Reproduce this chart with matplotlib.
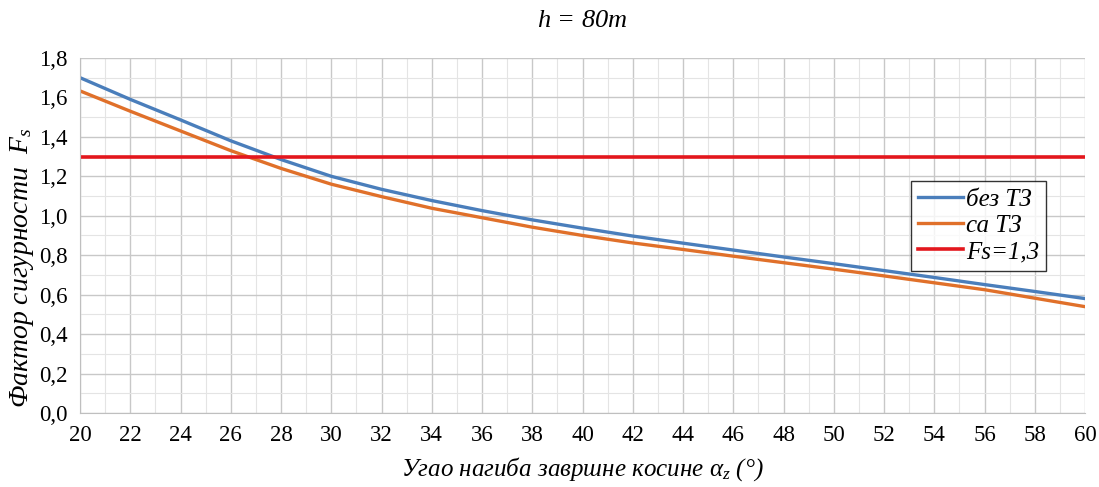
import numpy as np
import matplotlib
matplotlib.use('Agg')
import matplotlib.pyplot as plt
from matplotlib.ticker import MultipleLocator, FuncFormatter

plt.rcParams['font.family'] = ['Liberation Serif', 'DejaVu Serif']
plt.rcParams['mathtext.fontset'] = 'custom'
plt.rcParams['mathtext.it'] = 'Liberation Serif:italic'
plt.rcParams['mathtext.rm'] = 'Liberation Serif'

# Data
alpha = [20, 22, 24, 26, 28, 30, 32, 34, 36, 38, 40, 42, 44, 46, 48, 50, 52, 54, 56, 58, 60]
fs_bez = [1.70, 1.59, 1.486, 1.38, 1.285, 1.20, 1.134, 1.077, 1.026, 0.979, 0.937,
          0.897, 0.861, 0.826, 0.791, 0.757, 0.722, 0.687, 0.651, 0.616, 0.580]
fs_sa = [1.633, 1.53, 1.43, 1.33, 1.24, 1.16, 1.097, 1.038, 0.99, 0.942, 0.90,
         0.862, 0.829, 0.795, 0.762, 0.729, 0.695, 0.66, 0.625, 0.582, 0.539]
fs_limit = 1.3

fig = plt.figure(figsize=(10.99, 4.87), dpi=100)
ax = fig.add_axes([0.0728, 0.152, 0.9145, 0.729])

ax.plot(alpha, fs_bez, color='#4a7ebb', lw=2.4, label='без ТЗ')
ax.plot(alpha, fs_sa, color='#e0702a', lw=2.4, label='са ТЗ')
ax.plot([alpha[0], alpha[-1]], [fs_limit, fs_limit], color='#e3171d', lw=2.6, label='Fs=1,3')

ax.set_xlim(20, 60)
ax.set_ylim(0, 1.8)
ax.xaxis.set_major_locator(MultipleLocator(2))
ax.xaxis.set_minor_locator(MultipleLocator(1))
ax.yaxis.set_major_locator(MultipleLocator(0.2))
ax.yaxis.set_minor_locator(MultipleLocator(0.1))
ax.yaxis.set_major_formatter(FuncFormatter(lambda v, p: f'{v:.1f}'.replace('.', ',')))

ax.grid(which='major', color='#c8c8c8', lw=1.0)
ax.grid(which='minor', color='#e4e4e4', lw=0.8)
ax.set_axisbelow(True)
for s in ['top', 'right']:
    ax.spines[s].set_visible(False)
for s in ['left', 'bottom']:
    ax.spines[s].set_color('#bfbfbf')
ax.tick_params(which='both', length=0, labelsize=16.5, pad=9)

ax.set_title('$h$ = 80$m$', fontsize=19, style='italic', pad=22)
ax.set_xlabel('Угао нагиба завршне косине $α_z$ (°)', fontsize=18, style='italic', labelpad=6)
ax.set_ylabel('Фактор сигурности  $F_s$', fontsize=20, style='italic')
ax.yaxis.set_label_coords(-0.044, 0.41)

leg = ax.legend(loc='upper right', bbox_to_anchor=(0.974, 0.69), fontsize=18,
                frameon=True, fancybox=False, edgecolor='black', handlelength=1.8,
                handletextpad=0.1, borderpad=0.3, labelspacing=0.15)
leg.get_frame().set_linewidth(1.0)
for t in leg.get_texts():
    t.set_style('italic')

fig.savefig('out.png', dpi=100)
